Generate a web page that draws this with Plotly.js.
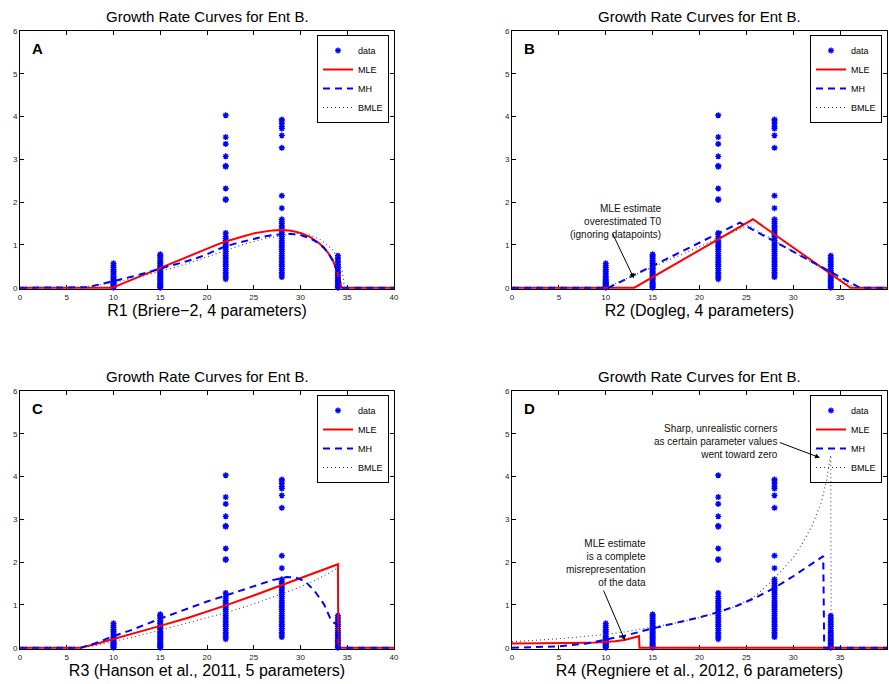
<!DOCTYPE html>
<html>
<head>
<meta charset="utf-8">
<script src="https://cdn.plot.ly/plotly-3.0.1.min.js"></script>
<style>html,body{margin:0;padding:0;background:#fff;}#chart{width:889px;height:684px;}</style>
</head>
<body>
<div id="chart"></div>
<script>
// ---- observed data (temperature columns and growth rates) ----
const dataTemps = [10, 15, 22, 28, 34];
const rates10 = [0, 0.02, 0.04, 0.06, 0.08, 0.1, 0.12, 0.14, 0.17, 0.2, 0.23, 0.26, 0.3, 0.34, 0.38, 0.42, 0.47, 0.52, 0.57];
const rates15 = [0, 0.03, 0.05, 0.08, 0.1, 0.13, 0.16, 0.19, 0.22, 0.25, 0.28, 0.32, 0.35, 0.38, 0.42, 0.45, 0.48, 0.52, 0.56, 0.6, 0.64, 0.68, 0.72, 0.75, 0.78];
const rates22 = [0.2, 0.25, 0.3, 0.35, 0.4, 0.45, 0.5, 0.55, 0.6, 0.65, 0.7, 0.75, 0.8, 0.85, 0.9, 0.95, 1.0, 1.05, 1.1, 1.15, 1.2, 1.28, 2.05, 2.07, 2.32, 2.83, 2.85, 3.07, 3.36, 3.52, 4.03];
const rates28 = [0.25, 0.3, 0.35, 0.4, 0.45, 0.5, 0.55, 0.6, 0.65, 0.7, 0.75, 0.8, 0.85, 0.9, 0.95, 1.0, 1.05, 1.1, 1.15, 1.2, 1.25, 1.3, 1.35, 1.4, 1.45, 1.5, 1.55, 1.6, 1.86, 2.15, 3.27, 3.56, 3.72, 3.77, 3.84, 3.9, 3.93];
const rates34 = [0, 0.03, 0.06, 0.1, 0.13, 0.17, 0.2, 0.24, 0.28, 0.32, 0.36, 0.4, 0.45, 0.5, 0.55, 0.6, 0.65, 0.7, 0.75];

// ---- R1 Briere-2 ----
const r1MleT = [0, 9.9, 11, 12, 13, 14, 15, 16, 17, 18, 19, 20, 21, 22, 23, 24, 25, 26, 27, 28, 29, 30, 31, 32, 32.5, 33, 33.5, 34, 34.2, 34.4, 40];
const r1Mle  = [0, 0, 0.1, 0.19, 0.28, 0.37, 0.46, 0.56, 0.65, 0.74, 0.83, 0.92, 1.0, 1.08, 1.15, 1.21, 1.27, 1.31, 1.34, 1.35, 1.33, 1.28, 1.19, 1.04, 0.94, 0.8, 0.62, 0.33, 0.15, 0, 0];
const r1MhT  = [0, 6.5, 7, 8, 9, 10, 11, 12, 13, 14, 15, 16, 17, 18, 19, 20, 21, 22, 23, 24, 25, 26, 27, 28, 29, 30, 31, 32, 32.5, 33, 33.5, 34, 34.2, 34.4, 40];
const r1Mh   = [0, 0, 0.01, 0.05, 0.1, 0.15, 0.2, 0.26, 0.32, 0.38, 0.45, 0.5, 0.56, 0.63, 0.7, 0.78, 0.88, 0.97, 1.03, 1.09, 1.14, 1.19, 1.23, 1.25, 1.26, 1.23, 1.16, 1.03, 0.93, 0.8, 0.62, 0.33, 0.15, 0, 0];
const r1BmT  = [0, 6, 7, 8, 9, 10, 12, 14, 15, 16, 18, 20, 22, 24, 26, 28, 29, 30, 31, 32, 33, 33.5, 34, 34.5, 34.7, 40];
const r1Bm   = [0, 0, 0.02, 0.05, 0.08, 0.12, 0.21, 0.32, 0.38, 0.44, 0.57, 0.72, 0.88, 1.02, 1.14, 1.23, 1.26, 1.27, 1.23, 1.14, 0.98, 0.87, 0.68, 0.35, 0, 0];

// ---- R2 Dogleg ----
const r2MleT = [0, 13.05, 25.7, 36.1, 40];
const r2Mle  = [0, 0, 1.6, 0, 0];
const r2MhT  = [0, 10.3, 24.3, 37.1, 40];
const r2Mh   = [0, 0, 1.52, 0, 0];
const r2BmT  = [0, 10.0, 25.2, 36.6, 40];
const r2Bm   = [0, 0, 1.46, 0, 0];

// ---- R3 Hanson ----
const r3MleT = [0, 6.5, 8, 10, 12, 15, 18, 20, 22, 25, 28, 30, 32, 34, 34.05, 40];
const r3Mle  = [0, 0, 0.08, 0.2, 0.32, 0.51, 0.7, 0.84, 0.99, 1.22, 1.46, 1.63, 1.79, 1.95, 0, 0];
const r3MhT  = [0, 6.5, 8, 10, 12, 15, 18, 20, 22, 25, 27, 28.5, 29.5, 30.5, 31.5, 32.5, 33.2, 33.6, 33.9, 34.0, 40];
const r3Mh   = [0, 0, 0.1, 0.27, 0.42, 0.68, 0.92, 1.08, 1.22, 1.44, 1.58, 1.65, 1.64, 1.55, 1.33, 1.02, 0.68, 0.58, 0.55, 0, 0];
const r3BmT  = [0, 6.5, 8, 10, 12, 15, 18, 20, 22, 25, 28, 30, 32, 34, 34.05, 40];
const r3Bm   = [0, 0, 0.05, 0.14, 0.24, 0.41, 0.58, 0.7, 0.82, 1.02, 1.25, 1.42, 1.62, 1.86, 0, 0];

// ---- R4 Regniere ----
const r4MleT = [0, 3, 6, 9, 10, 11, 12, 13, 13.55, 13.6, 40];
const r4Mle  = [0.1, 0.1, 0.11, 0.12, 0.13, 0.15, 0.18, 0.23, 0.27, 0, 0];
const r4MhT  = [0, 3, 5, 8, 10, 12, 15, 18, 20, 22, 24, 26, 28, 30, 32, 33.2, 33.3, 40];
const r4Mh   = [0, 0.01, 0.03, 0.1, 0.19, 0.28, 0.45, 0.6, 0.71, 0.83, 0.98, 1.17, 1.4, 1.67, 1.96, 2.14, 0, 0];
const r4BmT  = [0, 3, 5, 8, 10, 12, 15, 18, 20, 22, 24, 26, 28, 29, 30, 31, 32, 33, 33.5, 34, 34.05, 40];
const r4Bm   = [0.14, 0.18, 0.21, 0.27, 0.31, 0.37, 0.48, 0.6, 0.7, 0.82, 0.98, 1.22, 1.62, 1.85, 2.1, 2.45, 2.85, 3.4, 3.85, 4.5, 0, 0];

const xTitles = ['R1 (Briere\u22122, 4 parameters)', 'R2 (Dogleg, 4 parameters)', 'R3 (Hanson et al., 2011, 5 parameters)', 'R4 (Regniere et al., 2012, 6 parameters)'];
const panelLetters = ['A', 'B', 'C', 'D'];
const plotTitle = 'Growth Rate Curves for Ent B.';
const xTicks = [0, 5, 10, 15, 20, 25, 30, 35, 40];
const yTicks = [0, 1, 2, 3, 4, 5, 6];

// ---- build ----
const W = 889, H = 684;
const FONT = 'Liberation Sans, Arial, Helvetica, sans-serif';
const allRates = [rates10, rates15, rates22, rates28, rates34];
const dataX = [], dataY = [];
allRates.forEach((col, i) => col.forEach(v => { dataX.push(dataTemps[i]); dataY.push(v); }));

const curves = [
  [r1MleT, r1Mle, r1MhT, r1Mh, r1BmT, r1Bm],
  [r2MleT, r2Mle, r2MhT, r2Mh, r2BmT, r2Bm],
  [r3MleT, r3Mle, r3MhT, r3Mh, r3BmT, r3Bm],
  [r4MleT, r4Mle, r4MhT, r4Mh, r4BmT, r4Bm]
];

// panel pixel boxes: [left, right, top, bottom]
const boxes = [[20, 394, 31, 289], [512, 887, 31, 289], [20, 394, 391, 649], [512, 887, 391, 649]];

const traces = [];
const layout = {
  width: W, height: H,
  margin: {l: 0, r: 0, t: 0, b: 0},
  paper_bgcolor: '#fff', plot_bgcolor: '#fff',
  font: {family: FONT, color: '#000'},
  showlegend: true,
  annotations: []
};

boxes.forEach((b, i) => {
  const n = i + 1;
  const sx = n === 1 ? '' : String(n);
  const xa = 'x' + sx, ya = 'y' + sx;
  const lg = n === 1 ? 'legend' : 'legend' + n;
  const c = curves[i];
  traces.push({x: dataX, y: dataY, xaxis: xa, yaxis: ya, legend: lg, name: 'data', mode: 'markers', type: 'scatter',
    cliponaxis: false,
    marker: {symbol: 'asterisk-open', size: 5, color: '#0000ff', line: {color: '#0000ff', width: 1.4}}});
  traces.push({x: c[0], y: c[1], xaxis: xa, yaxis: ya, legend: lg, name: 'MLE', mode: 'lines', type: 'scatter',
    line: {color: '#ff0000', width: 2}});
  traces.push({x: c[2], y: c[3], xaxis: xa, yaxis: ya, legend: lg, name: 'MH', mode: 'lines', type: 'scatter',
    line: {color: '#0000ff', width: 2, dash: '7px,5px'}});
  traces.push({x: c[4], y: c[5], xaxis: xa, yaxis: ya, legend: lg, name: 'BMLE', mode: 'lines', type: 'scatter',
    line: {color: '#444444', width: 1.1, dash: '1px,3px'}});

  const axCommon = {showline: true, linecolor: '#000', linewidth: 1, mirror: 'ticks', ticks: 'inside', ticklen: 4,
    tickcolor: '#000', tickwidth: 1, showgrid: false, zeroline: false, layer: 'below traces',
    tickfont: {size: 8, family: FONT, color: '#222'}, fixedrange: true};
  layout['xaxis' + sx] = Object.assign({}, axCommon, {
    domain: [b[0] / W, b[1] / W], anchor: ya, range: [0, 40], tickmode: 'array', tickvals: xTicks,
    title: {text: xTitles[i], font: {size: 16, family: FONT, color: '#000'}, standoff: 2}
  });
  layout['yaxis' + sx] = Object.assign({}, axCommon, {
    domain: [1 - b[3] / H, 1 - b[2] / H], anchor: xa, range: [-0.03, 6], tickmode: 'array', tickvals: yTicks,
    ticklabelstandoff: 0
  });
  layout[lg] = {x: (b[1] - 5) / W, xanchor: 'right', y: 1 - (b[2] + 4) / H, yanchor: 'top',
    bgcolor: n === 4 ? 'rgba(255,255,255,0)' : '#fff', bordercolor: '#000', borderwidth: 1,
    font: {size: 9, family: FONT, color: '#000'}, itemwidth: 30, tracegroupgap: 0};
  layout.annotations.push({xref: 'paper', yref: 'paper', x: (b[0] + b[1]) / 2 / W, y: 1 - (b[2] - 15) / H,
    xanchor: 'center', yanchor: 'middle', text: plotTitle, showarrow: false, font: {size: 15, family: FONT, color: '#000'}});
  layout.annotations.push({xref: 'paper', yref: 'paper', x: (b[0] + 10) / W, y: 1 - (b[2] + 17) / H,
    xanchor: 'left', yanchor: 'middle', text: '<b>' + panelLetters[i] + '</b>', showarrow: false, font: {size: 15, family: FONT, color: '#000'}});
});

// callouts
const noteFont = {size: 10, family: FONT, color: '#111'};
layout.annotations.push({xref: 'paper', yref: 'paper', x: 664 / W, y: 1 - 201 / H, xanchor: 'right', yanchor: 'top', align: 'right',
  text: 'MLE estimate<br>overestimated T0<br>(ignoring datapoints)', showarrow: false, font: noteFont});
layout.annotations.push({xref: 'x2', yref: 'y2', axref: 'x2', ayref: 'y2', x: 13.0, y: 0.22, ax: 10.65, ay: 1.3, text: '',
  showarrow: true, arrowhead: 2, arrowsize: 1, arrowwidth: 1, arrowcolor: '#000', standoff: 0, startstandoff: 0});
layout.annotations.push({xref: 'paper', yref: 'paper', x: 648 / W, y: 1 - 536 / H, xanchor: 'right', yanchor: 'top', align: 'right',
  text: 'MLE estimate<br>is a complete<br>misrepresentation<br>of the data', showarrow: false, font: noteFont});
layout.annotations.push({xref: 'x4', yref: 'y4', axref: 'x4', ayref: 'y4', x: 12.05, y: 0.17, ax: 9.7, ay: 1.37, text: '',
  showarrow: true, arrowhead: 2, arrowsize: 1, arrowwidth: 1, arrowcolor: '#000', standoff: 0, startstandoff: 0});
layout.annotations.push({xref: 'paper', yref: 'paper', x: 780 / W, y: 1 - 421 / H, xanchor: 'right', yanchor: 'top', align: 'right',
  text: 'Sharp, unrealistic corners<br>as certain parameter values<br>went toward zero', showarrow: false, font: noteFont});
layout.annotations.push({xref: 'x4', yref: 'y4', axref: 'x4', ayref: 'y4', x: 32.85, y: 4.44, ax: 28.4, ay: 4.81, text: '',
  showarrow: true, arrowhead: 2, arrowsize: 1, arrowwidth: 1, arrowcolor: '#000', standoff: 0, startstandoff: 0});

Plotly.newPlot('chart', traces, layout, {staticPlot: true, displayModeBar: false});
</script>
</body>
</html>
